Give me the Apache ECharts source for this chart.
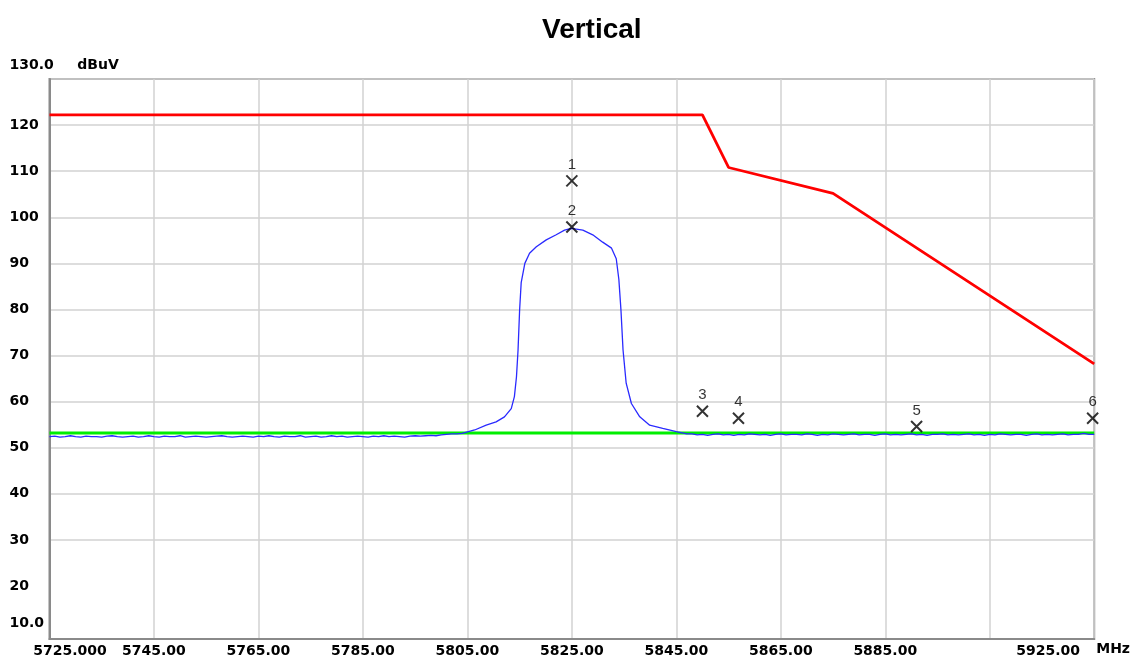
<!DOCTYPE html>
<html>
<head>
<meta charset="utf-8">
<script src="https://cdn.jsdelivr.net/npm/echarts@6/dist/echarts.min.js"></script>
<style>
html,body{margin:0;padding:0;background:#fff;}
#chart{width:1133px;height:660px;}
</style>
</head>
<body>
<div id="chart"></div>
<script>
// ---- data ----
const chartTitle = 'Vertical';
const xTickValues = [5725, 5745, 5765, 5785, 5805, 5825, 5845, 5865, 5885, 5905, 5925];
const yTickValues = [10, 20, 30, 40, 50, 60, 70, 80, 90, 100, 110, 120, 130];

// limit line (red)
const limitFreq  = [5725, 5850, 5855, 5875, 5925];
const limitLevel = [122.2, 122.2, 110.8, 105.2, 68.2];

// reference line (green)
const refFreq  = [5725, 5925];
const refLevel = [53.2, 53.2];

// measured trace (blue): noise floor left of the carrier, 1 MHz samples from 5725
const noiseLeftStart = 5725;
const noiseLeft = [
  52.4,52.5,52.3,52.4,52.6,52.4,52.3,52.5,52.4,52.4,
  52.3,52.5,52.6,52.4,52.3,52.4,52.5,52.3,52.4,52.6,
  52.4,52.3,52.5,52.4,52.4,52.6,52.3,52.4,52.5,52.4,
  52.3,52.4,52.5,52.6,52.4,52.3,52.4,52.5,52.4,52.3,
  52.5,52.4,52.6,52.4,52.3,52.5,52.4,52.4,52.6,52.3,
  52.4,52.5,52.3,52.4,52.6,52.4,52.5,52.3,52.4,52.5,
  52.4,52.3,52.5,52.4,52.6,52.4,52.5,52.4,52.3,52.5,
  52.6,52.5,52.6,52.7,52.6,52.8,52.9,53.0,53.0,53.1
];
// carrier shape [MHz, dBuV]
const carrier = [
  [5806.4,53.85],[5808.6,54.9],[5810.5,55.6],[5812.1,56.7],[5813.4,58.5],
  [5814.0,61.1],[5814.4,65.4],[5814.7,71.2],[5815.0,79.9],[5815.3,85.8],
  [5816.0,90.0],[5816.9,92.2],[5818.2,93.6],[5820.1,95.1],[5822.0,96.2],
  [5823.6,97.2],[5824.9,97.6],[5827.1,97.2],[5829.0,96.2],[5830.9,94.6],
  [5832.6,93.3],[5833.5,91.0],[5834.0,86.5],[5834.4,79.9],[5834.8,71.2],
  [5835.4,64.0],[5836.4,59.6],[5838.0,56.7],[5839.9,54.9],[5842.4,54.2],
  [5845.0,53.5],[5847.0,53.0]
];
// noise floor right of the carrier, 1 MHz samples from 5848
const noiseRightStart = 5848;
const noiseRight = [
  53.0,52.8,52.9,52.7,52.9,53.0,52.8,52.9,52.7,52.9,
  52.8,53.0,52.9,52.8,52.9,52.7,52.9,53.0,52.8,52.9,
  52.9,52.8,53.0,52.9,52.7,52.9,52.8,53.0,52.9,52.8,
  52.9,53.0,52.8,52.9,52.9,52.7,52.9,53.0,52.8,52.9,
  52.8,52.9,53.0,52.8,52.9,52.7,52.9,52.9,53.0,52.8,
  52.9,52.8,52.9,53.0,52.8,52.9,52.7,52.9,52.8,53.0,
  52.9,52.8,52.9,52.9,52.7,52.9,53.0,52.8,52.9,52.8,
  52.9,53.0,52.8,52.9,52.9,53.1,52.9,52.9
];

// markers
const markerIds   = ['1', '2', '3', '4', '5', '6'];
const markerFreq  = [5825.0, 5825.0, 5850.0, 5856.9, 5891.0, 5924.7];
const markerLevel = [107.9, 97.9, 57.9, 56.4, 54.6, 56.4];

// ---- build series data ----
const trace = [];
noiseLeft.forEach((v, i) => trace.push([noiseLeftStart + i, v]));
carrier.forEach(p => trace.push(p));
noiseRight.forEach((v, i) => trace.push([noiseRightStart + i, v]));
const limitData = limitFreq.map((f, i) => [f, limitLevel[i]]);
const refData = refFreq.map((f, i) => [f, refLevel[i]]);
const markerData = markerFreq.map((f, i) => [f, markerLevel[i], markerIds[i]]);

const FONT = 'DejaVu Sans';
const axisFont = {fontFamily: FONT, fontWeight: 'bold', fontSize: 14, color: '#000'};

const chart = echarts.init(document.getElementById('chart'), null, {renderer: 'canvas'});
chart.setOption({
  animation: false,
  backgroundColor: '#fff',
  title: {
    text: chartTitle,
    left: 537, top: 10,
    textStyle: {fontFamily: 'Liberation Sans', fontWeight: 'bold', fontSize: 28, color: '#000', lineHeight: 30}
  },
  grid: {
    left: 49.5, right: 38, top: 79, bottom: 21,
    show: true, borderColor: '#8a8a8a', borderWidth: 2, backgroundColor: '#fff'
  },
  xAxis: {
    type: 'value',
    min: xTickValues[0], max: xTickValues[xTickValues.length - 1], interval: 20,
    name: 'MHz', nameLocation: 'end', nameGap: 2,
    nameTextStyle: Object.assign({}, axisFont, {verticalAlign: 'top', lineHeight: 20}),
    axisLine: {show: true, lineStyle: {color: '#8a8a8a', width: 2}},
    axisTick: {show: false},
    splitLine: {show: true, lineStyle: {color: '#d2d2d2', width: 1.5}},
    axisLabel: Object.assign({}, axisFont, {
      margin: 5,
      formatter: function (v) {
        if (v === 5725) return '{first|5725.000}';
        if (v === 5905) return '';
        if (v === 5925) return '{last|5925.00}';
        return v.toFixed(2);
      },
      rich: {
        first: Object.assign({}, axisFont, {padding: [0, 0, 0, 41]}),
        last: Object.assign({}, axisFont, {padding: [0, 92, 0, 0]})
      }
    })
  },
  yAxis: {
    type: 'value',
    min: 8.5, max: yTickValues[yTickValues.length - 1], splitNumber: 12,
    name: 'dBuV', nameLocation: 'end', nameGap: 14,
    nameTextStyle: Object.assign({}, axisFont, {padding: [0, 0, 0, 97], verticalAlign: 'middle'}),
    axisLine: {show: true, lineStyle: {color: '#8a8a8a', width: 2}},
    axisTick: {show: false},
    splitLine: {
      show: true, showMinLine: false,
      lineStyle: {
        color: ['rgba(0,0,0,0)', 'rgba(0,0,0,0)', '#d2d2d2', '#d2d2d2', '#d2d2d2', '#d2d2d2', '#d2d2d2',
                '#d2d2d2', '#d2d2d2', '#d2d2d2', '#d2d2d2', '#d2d2d2', '#d2d2d2', '#d2d2d2', '#d2d2d2'],
        width: 1.5
      }
    },
    axisLabel: Object.assign({}, axisFont, {
      align: 'left', margin: 40,
      formatter: function (v) {
        if (Math.abs(v - 130) < 1e-6) return '{top|130.0}';
        if (Math.abs(v - 10) < 1e-6) return '{bot|10.0}';
        if (yTickValues.indexOf(v) >= 0) return String(v);
        return '';
      },
      rich: {
        top: Object.assign({}, axisFont, {padding: [0, 0, 28, 0]}),
        bot: Object.assign({}, axisFont, {padding: [0, 0, 18, 0]})
      }
    })
  },
  series: [
    {
      name: 'Reference', type: 'line', data: refData, showSymbol: false,
      lineStyle: {color: '#00ee00', width: 3}, z: 2
    },
    {
      name: 'Trace', type: 'line', data: trace, showSymbol: false,
      lineStyle: {color: '#2a2aff', width: 1.3}, z: 3
    },
    {
      name: 'Limit', type: 'line', data: limitData, showSymbol: false,
      lineStyle: {color: '#ff0000', width: 2.8}, z: 4
    },
    {
      name: 'Markers', type: 'scatter', data: markerData,
      symbol: 'path://M0,0L10,10M10,0L0,10', symbolSize: 11,
      itemStyle: {color: 'rgba(0,0,0,0)', borderColor: '#000', borderWidth: 2},
      label: {
        show: true, position: 'top', distance: 2,
        formatter: p => p.value[2],
        fontFamily: 'Liberation Sans', fontSize: 15, color: '#000'
      },
      clip: false, z: 5
    }
  ]
});
</script>
</body>
</html>
